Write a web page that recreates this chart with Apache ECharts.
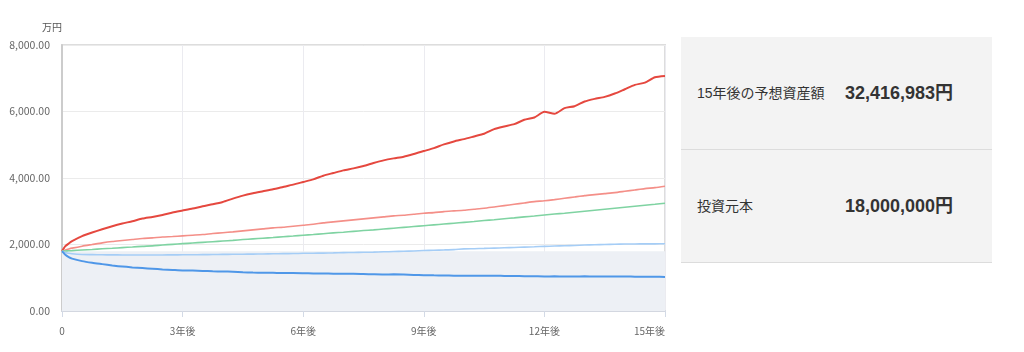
<!DOCTYPE html>
<html>
<head>
<meta charset="utf-8">
<script src="https://cdn.jsdelivr.net/npm/echarts@6/dist/echarts.min.js"></script>
<style>
  html, body { margin: 0; padding: 0; background: #ffffff; }
  body { width: 1024px; height: 352px; position: relative; overflow: hidden;
    font-family: 'Liberation Sans', 'Noto Sans CJK JP', sans-serif; }
  #sim-chart { position: absolute; left: 0; top: 0; width: 680px; height: 352px; }
  .result { position: absolute; left: 681px; top: 37px; width: 311px; }
  .result-row { position: relative; height: 112px; background: #f3f3f3; border-bottom: 1px solid #dcdcdc; }
  .result-label { position: absolute; left: 16px; top: 0; line-height: 112px; font-size: 14px; color: #333333; }
  .result-value { position: absolute; left: 164px; top: 0; line-height: 112px; font-size: 18px; font-weight: bold; color: #333333; }
</style>
</head>
<body>
<div id="sim-chart"></div>
<div class="result">
  <div class="result-row">
    <span class="result-label">15年後の予想資産額</span>
    <span class="result-value">32,416,983円</span>
  </div>
  <div class="result-row">
    <span class="result-label">投資元本</span>
    <span class="result-value">18,000,000円</span>
  </div>
</div>
<script>
// 経過年数
const years = [0, 0.083, 0.167, 0.25, 0.5, 0.75, 1, 1.25, 1.5, 1.75, 2, 2.25, 2.5, 2.75, 3, 3.25, 3.5, 3.75,
  4, 4.25, 4.5, 4.75, 5, 5.25, 5.5, 5.75, 6, 6.25, 6.5, 6.75, 7, 7.25, 7.5, 7.75, 8, 8.25, 8.5, 8.75,
  9, 9.25, 9.5, 9.75, 10, 10.25, 10.5, 10.75, 11, 11.25, 11.5, 11.75, 12, 12.25, 12.5, 12.75,
  13, 13.25, 13.5, 13.75, 14, 14.25, 14.5, 14.75, 15];

// 各シナリオ（万円）
const upper = [1800, 1950, 2030, 2100, 2250, 2360, 2460, 2550, 2630, 2700, 2780, 2830, 2890, 2960, 3020, 3080, 3150, 3210,
  3280, 3380, 3470, 3540, 3600, 3660, 3730, 3800, 3880, 3960, 4070, 4150, 4230, 4290, 4360, 4450, 4530, 4590, 4640, 4720,
  4810, 4900, 5010, 5100, 5170, 5250, 5330, 5470, 5550, 5620, 5750, 5820, 5990, 5930, 6100, 6160,
  6300, 6380, 6440, 6540, 6670, 6800, 6870, 7030, 7070];
const upperMid = [1800, 1835, 1865, 1890, 1950, 2000, 2050, 2090, 2120, 2150, 2180, 2200, 2225, 2240, 2260, 2280, 2300, 2330,
  2355, 2380, 2410, 2440, 2470, 2500, 2520, 2550, 2580, 2610, 2650, 2680, 2710, 2740, 2770, 2800, 2830, 2860, 2880, 2910,
  2940, 2960, 2990, 3010, 3030, 3060, 3090, 3130, 3170, 3210, 3250, 3290, 3315, 3350, 3390, 3430,
  3470, 3500, 3530, 3560, 3600, 3640, 3680, 3710, 3750];
const median = [1800, 1805, 1810, 1815, 1835, 1850, 1870, 1885, 1905, 1925, 1945, 1960, 1985, 2005, 2025, 2045, 2065, 2085,
  2105, 2125, 2150, 2170, 2190, 2210, 2235, 2255, 2280, 2300, 2325, 2350, 2370, 2395, 2420, 2440, 2465, 2490, 2515, 2540,
  2565, 2590, 2615, 2640, 2665, 2690, 2720, 2745, 2775, 2800, 2830, 2855, 2885, 2915, 2940, 2970,
  3000, 3030, 3060, 3090, 3120, 3150, 3180, 3210, 3242];
const lowerMid = [1800, 1760, 1735, 1720, 1700, 1695, 1690, 1688, 1686, 1685, 1685, 1685, 1686, 1688, 1690, 1692, 1695, 1698,
  1702, 1705, 1708, 1712, 1716, 1720, 1725, 1728, 1735, 1738, 1742, 1748, 1755, 1760, 1766, 1772, 1780, 1788, 1796, 1805,
  1820, 1828, 1836, 1846, 1868, 1874, 1882, 1892, 1902, 1912, 1922, 1932, 1945, 1953, 1962, 1972,
  1985, 1992, 2000, 2006, 2015, 2017, 2019, 2020, 2022];
const lower = [1800, 1690, 1620, 1575, 1500, 1450, 1410, 1370, 1335, 1310, 1290, 1270, 1250, 1235, 1220, 1215, 1205, 1195,
  1188, 1180, 1165, 1155, 1150, 1148, 1140, 1142, 1137, 1130, 1128, 1122, 1118, 1120, 1112, 1105, 1100, 1102, 1095, 1085,
  1078, 1072, 1068, 1060, 1058, 1062, 1058, 1060, 1055, 1052, 1048, 1045, 1040, 1042, 1038, 1040,
  1042, 1038, 1040, 1036, 1040, 1032, 1030, 1028, 1025];
// 投資元本
const principalYears = [0, 15];
const principal = [1800, 1800];

function pairs(xs, ys) {
  return xs.map((x, i) => [x, ys[i]]);
}

function lineSeries(name, values, color, width) {
  return {
    name: name,
    type: 'line',
    data: pairs(years, values),
    symbol: 'none',
    smooth: 0.2,
    lineStyle: { color: color, width: width },
    itemStyle: { color: color },
    z: 3
  };
}

let myChart = echarts.init(document.getElementById('sim-chart'));
myChart.setOption({
  animation: false,
  grid: {
    left: 62,
    top: 45,
    width: 603,
    height: 266,
    show: true,
    borderColor: '#dddddd',
    borderWidth: 2
  },
  xAxis: {
    type: 'value',
    min: 0,
    max: 15,
    interval: 3,
    axisLine: { lineStyle: { color: '#d3d7e0', width: 2 } },
    axisTick: { show: true, length: 6, lineStyle: { color: '#d3dae6' } },
    axisLabel: {
      color: '#666666',
      fontSize: 10,
      margin: 15,
      alignMaxLabel: 'right',
      fontFamily: 'Noto Sans CJK JP',
      formatter: v => (v === 0 ? '0' : v + '年後')
    },
    splitLine: { show: true, lineStyle: { color: '#ebebf0' } }
  },
  yAxis: {
    type: 'value',
    min: 0,
    max: 8000,
    interval: 2000,
    name: '万円',
    nameGap: 13,
    nameTextStyle: { color: '#555555', fontSize: 10, align: 'right', fontFamily: 'Noto Sans CJK JP' },
    axisLine: { show: true, lineStyle: { color: '#cccccc', width: 2 } },
    axisTick: { show: false },
    axisLabel: {
      color: '#666666',
      fontSize: 10.5,
      margin: 12,
      fontFamily: 'Noto Sans CJK JP',
      formatter: v => v.toLocaleString('en-US', { minimumFractionDigits: 2, maximumFractionDigits: 2 })
    },
    splitLine: { lineStyle: { color: '#ebebeb' } }
  },
  series: [
    {
      name: '投資元本',
      type: 'line',
      data: pairs(principalYears, principal),
      symbol: 'none',
      lineStyle: { width: 0 },
      areaStyle: { color: '#edf0f5', opacity: 1 },
      z: 1
    },
    lineSeries('上位10%', upper, '#e5483f', 2),
    lineSeries('上位30%', upperMid, '#f48f88', 1.6),
    lineSeries('中央値', median, '#7fd3a2', 1.6),
    lineSeries('下位30%', lowerMid, '#a5cdf6', 1.6),
    lineSeries('下位10%', lower, '#4f97e8', 2)
  ]
});
</script>
</body>
</html>
